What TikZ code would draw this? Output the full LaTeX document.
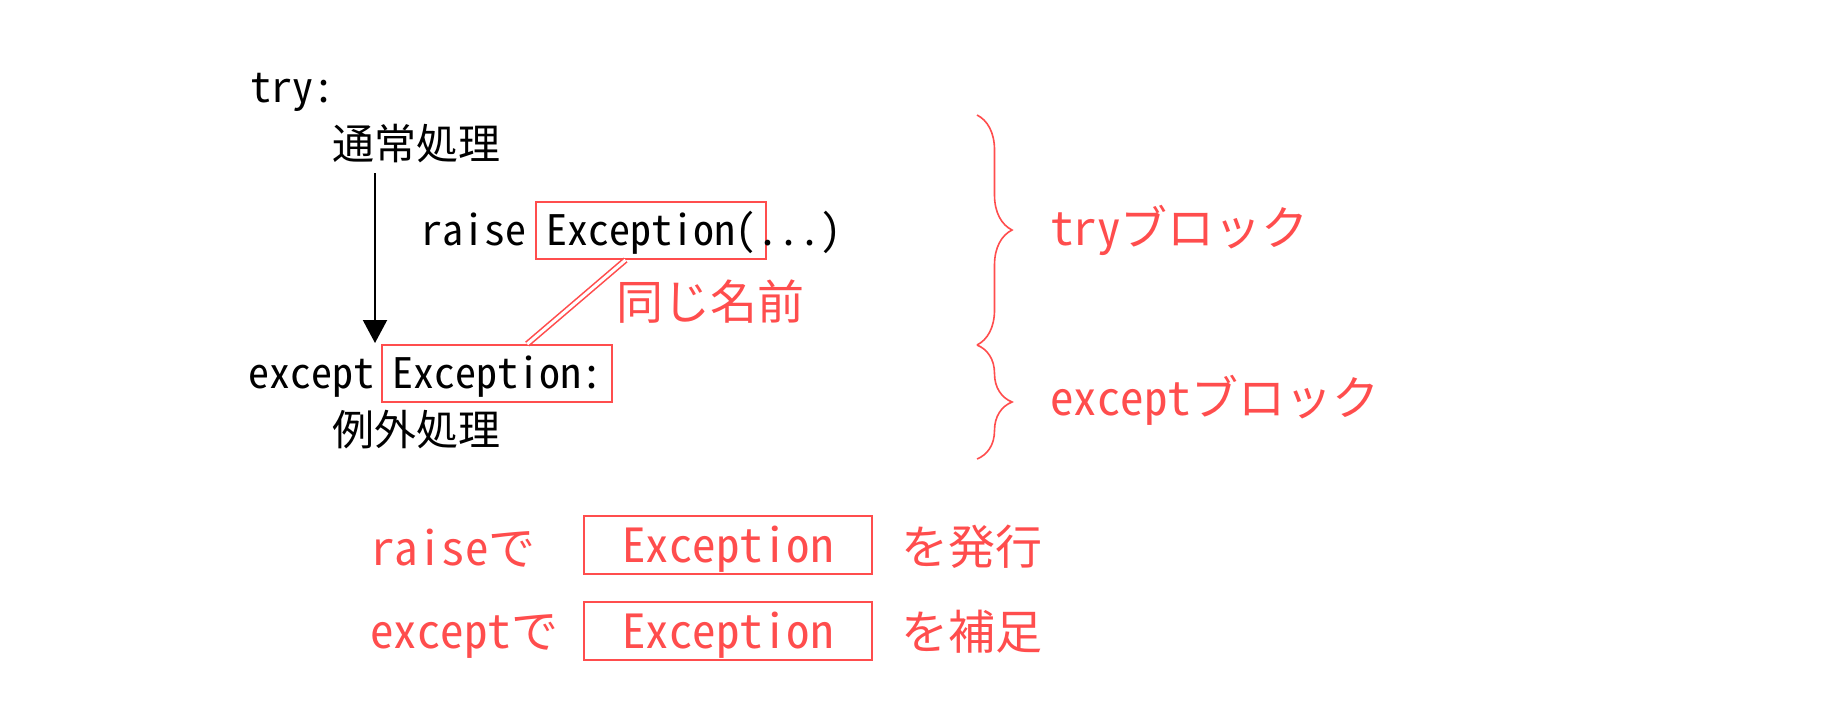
\documentclass[tikz,border=0pt]{standalone}
\usepackage{fontspec}
\usetikzlibrary{arrows.meta,calc,decorations.pathreplacing}
\newfontfamily\codefont[RawFeature=+hwid]{Noto Sans CJK JP}
\definecolor{accent}{RGB}{255,77,77}
\tikzset{
	code/.style={font=\codefont\fontsize{21pt}{21pt}\selectfont, anchor=base west, inner sep=0pt},
	note/.style={font=\codefont\fontsize{23.5pt}{23.5pt}\selectfont, text=accent, anchor=base west, inner sep=0pt},
	codebox/.style={code, draw=accent, line width=1pt, minimum width=115pt, text height=21.5pt, text depth=7pt},
	namebox/.style={note, anchor=center, draw=accent, line width=1pt, minimum width=144pt, minimum height=29pt, text height=20.7pt, text depth=2.8pt},
	flow/.style={line width=1pt, -{Triangle[length=11.5pt,width=12pt]}},
	samelink/.style={draw=accent, double=white, double distance=1.5pt, line width=0.8pt},
	blockbrace/.style={draw=accent, line width=0.8pt, decorate, decoration={brace, amplitude=17.5pt}}
}

\begin{document}
\begin{tikzpicture}[x=0.5pt, y=-0.5pt]
			%%%%% START %%%%%
			\useasboundingbox[fill=white] (0, 0) rectangle (1845, 725);
			
			\node[code] (trykw) at (250, 102) {try:};
			\node[code] (normal) at (332, 159) {通常処理};
			
			\node[code] (raisekw) at (421, 245) {raise};
			\node[codebox] (raiseexc) at (535, 245) {Exception(};
			\node[code] (raisedots) at (757, 245) {...)};
			
			\node[code] (exceptkw) at (248, 388) {except};
			\node[codebox] (exceptexc) at (381, 388) {Exception:};
			\node[code] (handler) at (332, 445) {例外処理};
			
			\coordinate (flowtop) at (375, 173);
			\coordinate (flowend) at (375, 343);
			\draw[flow] (flowtop) -- (flowend);
			
			\draw[samelink] ($(raiseexc.south west)!0.39!(raiseexc.south east)$) -- ($(exceptexc.north west)!0.63!(exceptexc.north east)$);
			\node[note] (samename) at (616, 319) {同じ名前};
			
			\coordinate (trytop) at (977, 115);
			\coordinate (trybot) at (977, 345);
			\coordinate (exceptbot) at (977, 459);
			\draw[blockbrace] (trytop) -- (trybot);
			\draw[blockbrace] (trybot) -- (exceptbot);
			\node[note] (tryblock) at (1050, 245) {tryブロック};
			\node[note] (exceptblock) at (1050, 415) {exceptブロック};
			
			\node[note] (raiseby) at (371, 565) {raiseで};
			\node[namebox] (raisename) at (728, 545) {Exception};
			\node[note] (raiseto) at (901, 564) {を発行};
			
			\node[note] (exceptby) at (370, 648) {exceptで};
			\node[namebox] (exceptname) at (728, 631) {Exception};
			\node[note] (exceptto) at (901, 649) {を補足};
			%%%%% END %%%%%
\end{tikzpicture}
\end{document}
